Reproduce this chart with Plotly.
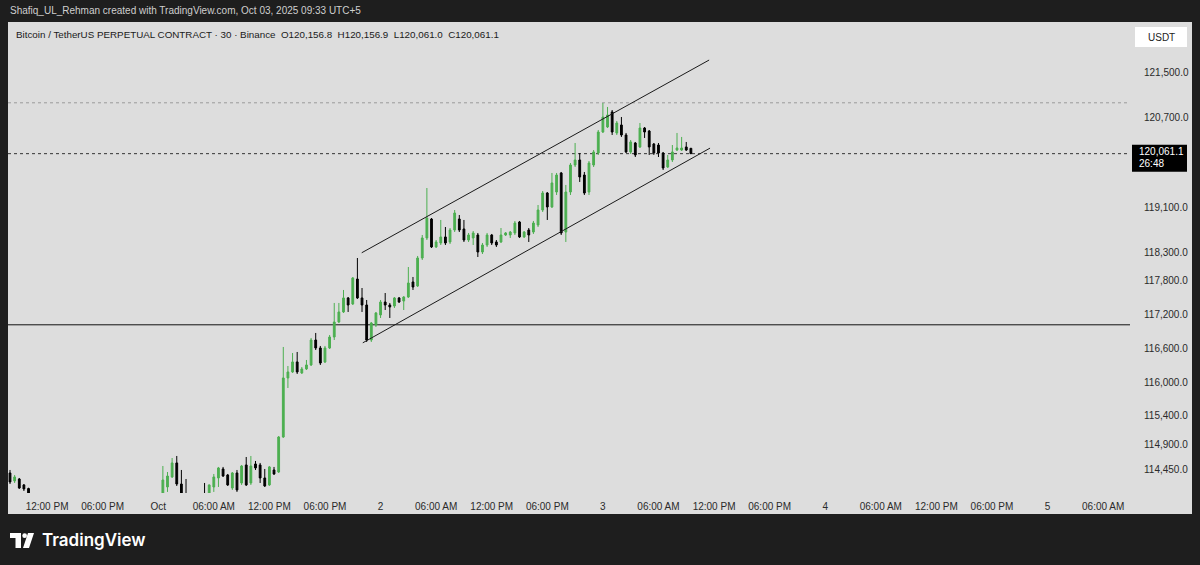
import plotly.graph_objects as go
import pandas as pd

# ---------------- data (BTC/USDT perpetual, 30-minute bars) ----------------
first_bar = "2025-09-30 08:00"

opens = [
    114387, 114245, 114280, 114174, 114110, 114000, 113880, 113760, 113600, 113500,
    113580, 113680, 113620, 113450, 113520, 113600, 113700, 113780, 113720, 113620,
    113680, 113760, 113840, 113780, 113700, 113760, 113860, 113820, 113760, 113800,
    113880, 113840, 113900, 113960, 114138, 114316, 114565, 114191, 114010, 113980,
    113880, 113800, 113990, 113950, 114138, 114298, 114458, 114351, 114120, 114387,
    114209, 114529, 114209, 114547, 114529, 114298, 114174, 114440, 114404, 115026,
    116075, 116182, 116360, 116164, 116235, 116306, 116750, 116608, 116359, 116608,
    116803, 117070, 117248, 117497, 117390, 117834, 117497, 117372, 116750, 117017,
    117195, 117425, 117372, 117354, 117497, 117443, 117514, 117781, 117710, 118207,
    118563, 118900, 118403, 118474, 118581, 118492, 118705, 118900, 118723, 118527,
    118563, 118616, 118314, 118438, 118616, 118492, 118492, 118616, 118616, 118652,
    118847, 118581, 118705, 118669, 118794, 119060, 119362, 119114, 119380, 119718,
    118669, 119380, 119860, 119949, 119682, 119380, 119860, 120073, 120446, 120535,
    120802, 120429, 120571, 120393, 120091, 120251, 120180, 120517, 120464, 120233,
    120215, 120073, 119824, 119949, 120126, 120126, 120180, 120156.8,
]
highs = [
    114440, 114351, 114298, 114191, 114125, 114020, 113950, 113820, 113700, 113640,
    113720, 113800, 113700, 113560, 113650, 113760, 113850, 113900, 113800, 113740,
    113820, 113900, 113960, 113880, 113820, 113920, 113980, 113900, 113880, 113950,
    113990, 113960, 114000, 114511, 114404, 114653, 114689, 114440, 114280, 114000,
    113960, 113940, 114209, 114180, 114369, 114494, 114494, 114369, 114404, 114440,
    114529, 114671, 114689, 114600, 114565, 114458, 114511, 114494, 115044, 116626,
    116288, 116519, 116537, 116270, 116395, 116786, 116875, 116644, 116644, 116839,
    117408, 117408, 117639, 117514, 117869, 118207, 117674, 117461, 117070, 117248,
    117461, 117585, 117408, 117514, 117514, 117530, 118047, 117870, 118243, 118616,
    119451, 118918, 118527, 118883, 118758, 118740, 119060, 118971, 118883, 118652,
    118687, 118652, 118474, 118652, 118634, 118527, 118740, 118669, 118687, 118865,
    118865, 118687, 118740, 118865, 119149, 119398, 119380, 119718, 119718, 119736,
    119505, 119895, 120251, 120073, 119736, 119931, 120126, 120482, 120962, 120891,
    120837, 120642, 120713, 120429, 120304, 120269, 120606, 120535, 120482, 120251,
    120251, 120091, 120038, 120215, 120429, 120358, 120269, 120156.9,
]
lows = [
    114191, 114209, 114103, 114067, 113980, 113850, 113700, 113550, 113420, 113380,
    113500, 113560, 113400, 113300, 113450, 113540, 113620, 113650, 113560, 113500,
    113600, 113700, 113720, 113650, 113600, 113700, 113780, 113700, 113680, 113740,
    113790, 113760, 113820, 113920, 114050, 114298, 114156, 113950, 113930, 113820,
    113760, 113740, 113880, 113920, 114050, 114138, 114316, 114156, 114085, 114050,
    114174, 114156, 114174, 114440, 114209, 114138, 114156, 114351, 114387, 115010,
    115897, 116164, 116146, 116146, 116217, 116288, 116572, 116306, 116341, 116590,
    116750, 117052, 117230, 117248, 117372, 117479, 117248, 116715, 116715, 116981,
    117141, 117283, 117141, 117319, 117408, 117283, 117497, 117639, 117692, 118172,
    118527, 118385, 118385, 118438, 118438, 118456, 118669, 118669, 118492, 118492,
    118438, 118225, 118278, 118403, 118438, 118403, 118474, 118598, 118563, 118616,
    118563, 118563, 118492, 118634, 118758, 119025, 118883, 119096, 119327, 118616,
    118492, 119327, 119824, 119558, 119327, 119327, 119824, 120038, 120429, 120517,
    120393, 120393, 120358, 120073, 120056, 120002, 120162, 120340, 120038, 120038,
    120002, 119771, 119807, 119913, 120109, 120109, 120109, 120061.0,
]
closes = [
    114227, 114316, 114120, 114103, 114000, 113880, 113760, 113600, 113500, 113580,
    113680, 113620, 113450, 113520, 113600, 113700, 113780, 113720, 113620, 113680,
    113760, 113840, 113780, 113700, 113760, 113860, 113820, 113760, 113800, 113880,
    113840, 113900, 113950, 114262, 114333, 114565, 114191, 113980, 113980, 113880,
    113800, 113900, 113940, 114174, 114316, 114476, 114333, 114174, 114387, 114085,
    114511, 114174, 114511, 114476, 114298, 114156, 114494, 114369, 115026, 116075,
    116182, 116360, 116182, 116235, 116306, 116750, 116608, 116341, 116608, 116803,
    117070, 117248, 117497, 117372, 117852, 117497, 117372, 116750, 117052, 117230,
    117425, 117372, 117337, 117497, 117425, 117514, 117763, 117692, 118207, 118563,
    118918, 118403, 118492, 118581, 118474, 118705, 119007, 118705, 118527, 118616,
    118652, 118314, 118438, 118616, 118474, 118438, 118616, 118652, 118669, 118829,
    118581, 118669, 118616, 118829, 119060, 119362, 119114, 119541, 119682, 118652,
    119380, 119860, 119949, 119647, 119362, 119895, 120091, 120446, 120713, 120748,
    120446, 120606, 120393, 120091, 120269, 120038, 120517, 120446, 120180, 120073,
    120073, 119807, 119949, 120091, 120162, 120162, 120126, 120061.1,
]
times = pd.date_range(first_bar, periods=len(opens), freq="30min")

# time-axis ticks (every 6 hours)
tick_times = pd.date_range("2025-09-30 12:00", "2025-10-05 06:00", freq="6h")
tick_text = ["12:00 PM", "06:00 PM", "Oct", "06:00 AM", "12:00 PM", "06:00 PM",
             "2", "06:00 AM", "12:00 PM", "06:00 PM",
             "3", "06:00 AM", "12:00 PM", "06:00 PM",
             "4", "06:00 AM", "12:00 PM", "06:00 PM",
             "5", "06:00 AM"]

# price-axis ticks
price_ticks = [121500, 120700, 119100, 118300, 117800, 117200,
               116600, 116000, 115400, 114900, 114450]
price_tick_text = [f"{v:,.1f}" for v in price_ticks]

# drawings: ascending channel and horizontal levels
upper_channel_times = ["2025-10-01 21:58", "2025-10-03 11:28"]
upper_channel_prices = [118300, 121725]
lower_channel_times = ["2025-10-01 22:05", "2025-10-03 11:34"]
lower_channel_prices = [116700, 120160]
support_level = 117020
target_level = 120965
last_price = 120061.1
countdown = "26:48"

x_view = ["2025-09-30 07:47", "2025-10-05 08:54"]
y_view = [114031, 122401]

# ---------------- styling ----------------
BG_DARK = "#1e1e1e"
PANEL = "#dddddd"
UP = "#4caf50"
DOWN = "#000000"
TXT = "#2a2a2a"
FONT = "Liberation Sans, Arial, sans-serif"

fig = go.Figure()
fig.add_trace(go.Candlestick(
    x=times, open=opens, high=highs, low=lows, close=closes,
    increasing=dict(line=dict(color=UP, width=1), fillcolor=UP),
    decreasing=dict(line=dict(color=DOWN, width=1), fillcolor=DOWN),
    whiskerwidth=0, showlegend=False, hoverinfo="skip",
))
for t, p in ((upper_channel_times, upper_channel_prices),
             (lower_channel_times, lower_channel_prices)):
    fig.add_trace(go.Scatter(x=t, y=p, mode="lines",
                             line=dict(color="#1a1a1a", width=1),
                             showlegend=False, hoverinfo="skip"))

shapes = [
    # grey chart panel incl. axis strips
    dict(type="rect", xref="paper", yref="paper", x0=0, x1=1.05526, y0=-0.04459, y1=1,
         fillcolor=PANEL, line=dict(width=0), layer="below"),
    dict(type="line", xref="paper", yref="y", x0=0, x1=1, y0=support_level, y1=support_level,
         line=dict(color="#111111", width=1), layer="below"),
    dict(type="line", xref="paper", yref="y", x0=0, x1=1, y0=target_level, y1=target_level,
         line=dict(color="#9a9a9a", width=1, dash="dot"), layer="below"),
    dict(type="line", xref="paper", yref="y", x0=0, x1=1, y0=last_price, y1=last_price,
         line=dict(color="#333333", width=1, dash="dot"), layer="below"),
    # USDT box
    dict(type="rect", xref="paper", yref="paper", x0=1.00446, x1=1.05080, y0=0.94692, y1=0.98938,
         fillcolor="#ffffff", line=dict(width=0)),
    # last-price box
    dict(type="rect", xref="paper", yref="y", ysizemode="pixel", yanchor=last_price,
         x0=1.00178, x1=1.05080, y0=-18, y1=9, fillcolor="#000000", line=dict(width=0)),
    # TradingView logo mark
    dict(type="path", xref="paper", yref="paper", xsizemode="pixel", ysizemode="pixel",
         xanchor=0, yanchor=0,
         path="M 2,-40 L 13,-40 L 13,-55 L 7.5,-55 L 7.5,-45 L 2,-45 Z",
         fillcolor="#ffffff", line=dict(width=0)),
    dict(type="circle", xref="paper", yref="paper", xsizemode="pixel", ysizemode="pixel",
         xanchor=0, yanchor=0, x0=14.3, x1=19, y0=-45, y1=-40.3,
         fillcolor="#ffffff", line=dict(width=0)),
    dict(type="path", xref="paper", yref="paper", xsizemode="pixel", ysizemode="pixel",
         xanchor=0, yanchor=0,
         path="M 20,-40 L 26,-40 L 21,-55 L 15,-55 Z",
         fillcolor="#ffffff", line=dict(width=0)),
]

annotations = [
    dict(text="Shafiq_UL_Rehman created with TradingView.com, Oct 03, 2025 09:33 UTC+5",
         xref="paper", yref="paper", x=0, y=1.0234, xanchor="left", yanchor="middle",
         showarrow=False, font=dict(family=FONT, size=10, color="#cfcfcf")),
    dict(text="Bitcoin / TetherUS PERPETUAL CONTRACT · 30 · Binance\u00a0\u00a0O120,156.8\u00a0\u00a0H120,156.9\u00a0\u00a0L120,061.0\u00a0\u00a0C120,061.1",
         xref="paper", yref="paper", x=0.00535, y=0.9724, xanchor="left", yanchor="middle",
         showarrow=False, font=dict(family=FONT, size=9.8, color="#1a1a1a")),
    dict(text="USDT", xref="paper", yref="paper", x=1.02763, y=0.96815,
         xanchor="center", yanchor="middle", showarrow=False,
         font=dict(family=FONT, size=10, color="#222222")),
    dict(text=f"{last_price:,.1f}", xref="paper", yref="y", x=1.00624, y=last_price,
         yshift=2, xanchor="left", yanchor="middle", showarrow=False,
         font=dict(family=FONT, size=10, color="#ffffff")),
    dict(text=countdown, xref="paper", yref="y", x=1.00624, y=last_price,
         yshift=-10, xanchor="left", yanchor="middle", showarrow=False,
         font=dict(family=FONT, size=10, color="#ffffff")),
    dict(text="TradingView", xref="paper", yref="paper", x=0.0285, y=-0.0998,
         xanchor="left", yanchor="middle", showarrow=False,
         font=dict(family="Inter, Lato, sans-serif", size=17, color="#ffffff", weight=600)),
]

fig.update_layout(
    width=1200, height=565,
    margin=dict(l=8, r=70, t=22, b=72, pad=0),
    paper_bgcolor=BG_DARK, plot_bgcolor=PANEL,
    boxgap=0.45,
    font=dict(family=FONT, size=10, color=TXT),
    hovermode=False,
    xaxis=dict(type="date", range=x_view, rangeslider=dict(visible=False),
               showgrid=False, zeroline=False, showline=False,
               tickmode="array", tickvals=tick_times, ticktext=tick_text,
               ticks="outside", ticklen=4, tickcolor="rgba(0,0,0,0)",
               tickfont=dict(family=FONT, size=10, color=TXT), fixedrange=True),
    yaxis=dict(side="right", range=y_view, showgrid=False, zeroline=False, showline=False,
               tickmode="array", tickvals=price_ticks, ticktext=price_tick_text,
               ticks="outside", ticklen=11, tickcolor="rgba(0,0,0,0)",
               tickfont=dict(family=FONT, size=10, color=TXT), fixedrange=True),
    shapes=shapes, annotations=annotations,
)

fig.write_html("out.html", config={"displayModeBar": False})
